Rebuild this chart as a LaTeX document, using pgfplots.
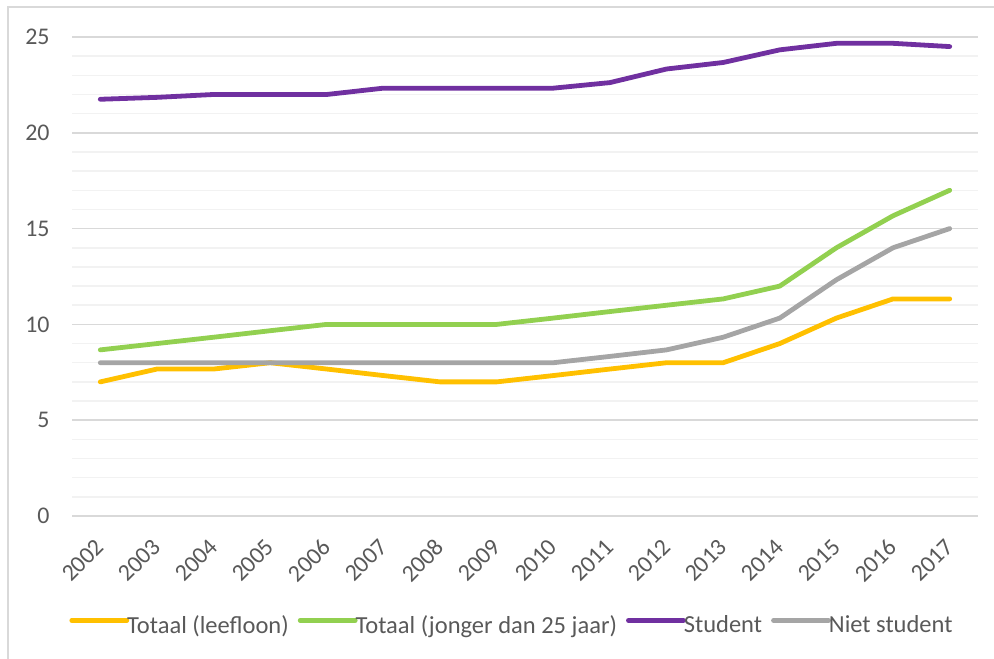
\documentclass[border=0pt]{standalone}
\usepackage{fontspec}
\setmainfont{Carlito}
\usepackage{pgfplots}
\pgfplotsset{compat=1.18}
\definecolor{cOr}{HTML}{FFC000}
\definecolor{cGr}{HTML}{92D050}
\definecolor{cPu}{HTML}{7030A0}
\definecolor{cGy}{HTML}{A5A5A5}
\definecolor{cTx}{HTML}{595959}
\definecolor{cMaj}{HTML}{D9D9D9}
\definecolor{cMin}{HTML}{F2F2F2}
\begin{document}
\begin{tikzpicture}
\useasboundingbox (0,0) rectangle (497bp,329.5bp);
\draw[cMaj, line width=0.75bp] (4bp,-2bp) -- (4bp,326bp) -- (500bp,326bp);
\begin{axis}[
  at={(36bp,71.5bp)}, anchor=south west,
  scale only axis, width=453bp, height=239.5bp,
  xmin=-0.5, xmax=15.5, ymin=0, ymax=25,
  xtick={0,...,15},
  xticklabels={2002,2003,2004,2005,2006,2007,2008,2009,2010,2011,2012,2013,2014,2015,2016,2017},
  ytick={0,5,...,25},
  /pgf/number format/assume math mode=true,
  minor y tick num=4,
  ymajorgrids, yminorgrids,
  major grid style={cMaj, line width=0.75bp},
  minor grid style={cMin, line width=0.75bp},
  axis line style={draw=none},
  tick style={draw=none},
  tick label style={font=\fontsize{12}{14}\selectfont, text=cTx},
  yticklabel style={anchor=east, inner sep=0pt},
  yticklabel shift=11bp,
  xticklabel style={rotate=45, anchor=east, inner sep=0pt},
  xticklabel shift=13.5bp,
  legend columns=4,
  legend style={at={(0.4845,-0.2296)}, anchor=center, draw=none, fill=none,
    font=\fontsize{12.3}{14}\selectfont, text=cTx,
    column sep=-1bp, /tikz/every even column/.append style={column sep=4.5bp},
    nodes={inner sep=0pt}},
  legend image code/.code={\draw[#1, line width=2.4bp, line cap=round] (0bp,0.28em) -- (27.5bp,0.28em);},
  every axis plot/.append style={line width=2.4bp, line join=round, line cap=round},
]
\addplot[cOr] coordinates {(0,7) (1,7.67) (2,7.67) (3,8) (4,7.67) (5,7.33) (6,7) (7,7) (8,7.33) (9,7.67) (10,8) (11,8) (12,9) (13,10.33) (14,11.33) (15,11.33)};
\addlegendentry{Totaal (leefloon)}
\addplot[cGr] coordinates {(0,8.67) (1,9) (2,9.33) (3,9.67) (4,10) (5,10) (6,10) (7,10) (8,10.33) (9,10.67) (10,11) (11,11.33) (12,12) (13,14) (14,15.67) (15,17)};
\addlegendentry{Totaal (jonger dan 25 jaar)}
\addplot[cPu] coordinates {(0,21.75) (1,21.85) (2,22) (3,22) (4,22) (5,22.33) (6,22.33) (7,22.33) (8,22.33) (9,22.62) (10,23.33) (11,23.67) (12,24.33) (13,24.67) (14,24.67) (15,24.5)};
\addlegendentry{Student}
\addplot[cGy] coordinates {(0,8) (1,8) (2,8) (3,8) (4,8) (5,8) (6,8) (7,8) (8,8) (9,8.33) (10,8.67) (11,9.33) (12,10.33) (13,12.33) (14,14) (15,15)};
\addlegendentry{Niet student}
\end{axis}
\end{tikzpicture}
\end{document}
